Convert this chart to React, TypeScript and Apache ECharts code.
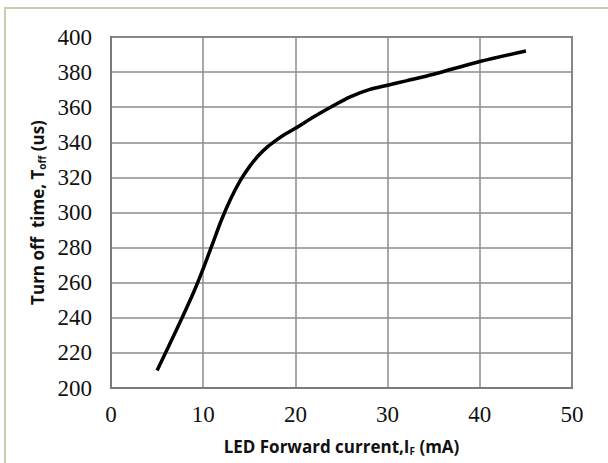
import React, { useEffect, useRef } from "react";
import * as echarts from "echarts";

const currentMA = [5, 7, 9, 10, 11, 12, 13, 14, 15, 16, 17, 18, 19, 20, 22, 24, 26, 28, 30, 32, 35, 40, 45];
const turnOffUs = [210, 232, 255, 268, 282, 296, 308, 318, 326, 332.5, 337.5, 341.5, 345, 348, 354.5, 360.5, 366, 370, 372.5, 375, 378.8, 386, 392];
const xTicks = [0, 10, 20, 30, 40, 50];
const yTicks = [200, 220, 240, 260, 280, 300, 320, 340, 360, 380, 400];

export default function App() {
  const ref = useRef<HTMLDivElement>(null);
  useEffect(() => {
    if (!ref.current) return;
    const chart = echarts.init(ref.current, null, { renderer: "svg" });
    const data = currentMA.map((x, i) => [x, turnOffUs[i]]);
    const rich = {
      b: { fontFamily: "Open Sans", fontWeight: "bold", fontSize: 17, color: "#111" },
      s: { fontFamily: "Open Sans", fontWeight: "bold", fontSize: 10, color: "#111", padding: [9, 0, 0, 0] },
    };
    chart.setOption({
      animation: false,
      backgroundColor: "#ffffff",
      graphic: [
        {
          type: "rect",
          shape: { x: 5, y: 8, width: 620, height: 470 },
          style: { fill: "none", stroke: "#cfcbb0", lineWidth: 2 },
          silent: true,
        },
      ],
      grid: { left: 111, right: 36, top: 37, bottom: 75, show: true, borderColor: "#7a7a7a", borderWidth: 2, backgroundColor: "transparent" },
      xAxis: {
        type: "value",
        min: xTicks[0],
        max: xTicks[xTicks.length - 1],
        interval: 10,
        name: "{b|LED Forward current,I}{s|F}{b| (mA)}",
        nameLocation: "middle",
        nameGap: 49,
        nameTextStyle: { rich },
        axisLine: { show: true, lineStyle: { color: "#7a7a7a", width: 2 } },
        axisTick: { show: false },
        axisLabel: { fontFamily: "Liberation Serif", fontSize: 23, color: "#111", margin: 15 },
        splitLine: { show: true, lineStyle: { color: "#8c8c8c", width: 1.5 } },
      },
      yAxis: {
        type: "value",
        min: yTicks[0],
        max: yTicks[yTicks.length - 1],
        interval: 20,
        name: "{b|Turn off  time, T}{s|off}{b| (us)}",
        nameLocation: "middle",
        nameGap: 64,
        nameRotate: 90,
        nameTextStyle: { rich },
        axisLine: { show: true, lineStyle: { color: "#7a7a7a", width: 2 } },
        axisTick: { show: false },
        axisLabel: { fontFamily: "Liberation Serif", fontSize: 23, color: "#111", margin: 19 },
        splitLine: { show: true, lineStyle: { color: "#8c8c8c", width: 1.5 } },
      },
      series: [
        {
          type: "line",
          data,
          smooth: 0.3,
          showSymbol: false,
          lineStyle: { color: "#000", width: 3.5 },
        },
      ],
    });
    return () => chart.dispose();
  }, []);
  return <div ref={ref} style={{ position: "fixed", left: 0, top: 0, width: 608, height: 463 }} />;
}
